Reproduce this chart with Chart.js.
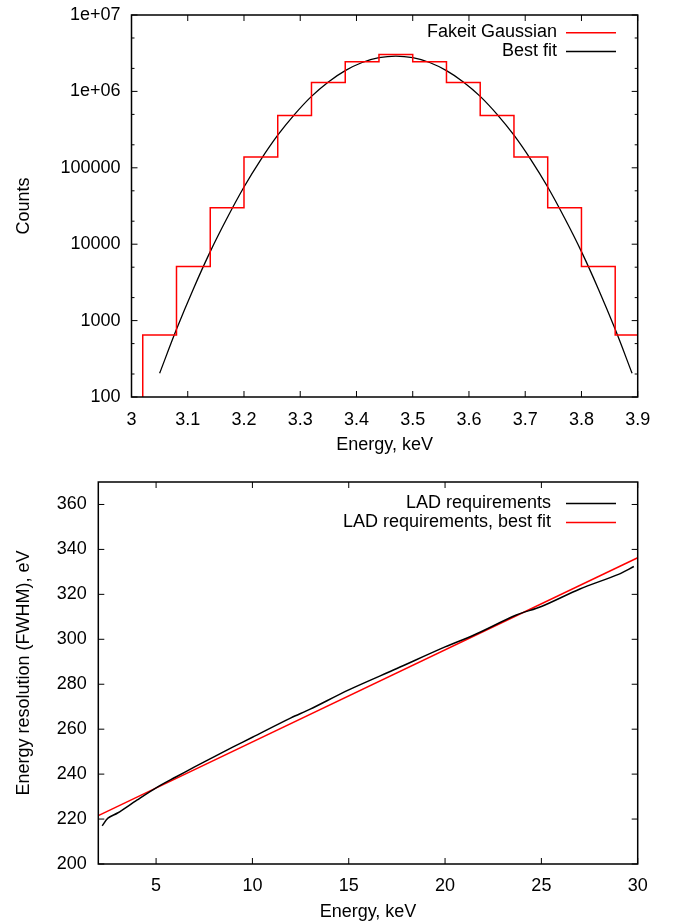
<!DOCTYPE html>
<html>
<head>
<meta charset="utf-8">
<script src="https://cdn.jsdelivr.net/npm/chart.js@4"></script>
<style>
body { margin: 0; background: #fff; }
#wrap { position: relative; width: 673px; height: 924px; }
.box { position: absolute; left: 0; width: 673px; }
</style>
</head>
<body>
<div id="wrap">
  <div class="box" style="top:0;height:460px"><canvas id="spec"></canvas></div>
  <div class="box" style="top:460px;height:464px"><canvas id="res"></canvas></div>
</div>
<script>
// top panel: fakeit spectrum (histogram) and gaussian fit
const binEdges  = [3.02, 3.08, 3.14, 3.20, 3.26, 3.32, 3.38, 3.44, 3.50, 3.56, 3.62, 3.68, 3.74, 3.80, 3.86, 3.92];
const binCounts = [650, 5100, 30000, 138000, 485000, 1310000, 2450000, 3050000, 2450000, 1310000, 485000, 138000, 30000, 5100, 650];

const fitX = [3.05, 3.08, 3.11, 3.14, 3.17, 3.20, 3.23, 3.26, 3.29, 3.32, 3.35, 3.38, 3.41, 3.44, 3.47,
              3.50, 3.53, 3.56, 3.59, 3.62, 3.65, 3.68, 3.71, 3.74, 3.77, 3.80, 3.83, 3.86, 3.89];
const fitY = [204, 770, 2600, 8000, 22000, 56000, 128000, 267000, 500000, 860000, 1330000, 1870000, 2390000, 2760000, 2900000,
              2760000, 2390000, 1870000, 1330000, 860000, 500000, 267000, 128000, 56000, 22000, 8000, 2600, 770, 204];

const specTicksX = [3, 3.1, 3.2, 3.3, 3.4, 3.5, 3.6, 3.7, 3.8, 3.9];
const specLabelsX = ['3', '3.1', '3.2', '3.3', '3.4', '3.5', '3.6', '3.7', '3.8', '3.9'];
const specTicksY = [100, 1000, 10000, 100000, 1000000, 10000000];
const specLabelsY = ['100', '1000', '10000', '100000', '1e+06', '1e+07'];
const specMinorY = [200, 500, 2000, 5000, 20000, 50000, 200000, 500000, 2000000, 5000000];

// bottom panel: LAD energy resolution
const resEnergy = [2.2, 2.5, 3, 4, 5, 6, 7, 8, 9, 10, 12, 13, 15, 17.5, 20, 21.5, 23.7, 25, 27, 29, 29.8];
const resFwhm   = [217.0, 220.4, 222.7, 228.4, 233.9, 238.6, 243.2, 247.7, 252.1, 256.4, 265.0, 268.9, 277.5, 287.0,
                   296.6, 301.9, 310.8, 314.6, 322.4, 328.9, 332.4];
const lineEnergy = [2, 30];
const lineFwhm   = [221.5, 336.3];

const resTicksX = [5, 10, 15, 20, 25, 30];
const resTicksY = [200, 220, 240, 260, 280, 300, 320, 340, 360];

Chart.defaults.font.family = '"Liberation Sans", Arial, sans-serif';
Chart.defaults.font.size = 18;
Chart.defaults.color = '#000';

// gnuplot-like border, inward ticks on all sides and key
const framePlugin = {
  id: 'frame',
  afterDatasetsDraw(chart, args, opts) {
    const ctx = chart.ctx, a = chart.chartArea;
    const xs = chart.scales.x, ys = chart.scales.y;
    ctx.save();
    ctx.strokeStyle = '#000';
    ctx.lineWidth = 1;
    ctx.beginPath();
    xs.ticks.forEach(t => {
      const px = xs.getPixelForValue(t.value);
      ctx.moveTo(px, a.bottom); ctx.lineTo(px, a.bottom - 6);
      ctx.moveTo(px, a.top); ctx.lineTo(px, a.top + 6);
    });
    ys.ticks.forEach(t => {
      const py = ys.getPixelForValue(t.value);
      ctx.moveTo(a.left, py); ctx.lineTo(a.left + 6, py);
      ctx.moveTo(a.right, py); ctx.lineTo(a.right - 6, py);
    });
    (opts.minorY || []).forEach(v => {
      const py = ys.getPixelForValue(v);
      ctx.moveTo(a.left, py); ctx.lineTo(a.left + 3, py);
      ctx.moveTo(a.right, py); ctx.lineTo(a.right - 3, py);
    });
    ctx.stroke();
    ctx.lineWidth = 1.5;
    ctx.strokeRect(a.left, a.top, a.width, a.height);

    ctx.font = '18px "Liberation Sans", Arial, sans-serif';
    ctx.textAlign = 'right';
    ctx.textBaseline = 'middle';
    chart.data.datasets.forEach((ds, i) => {
      const y = a.top + opts.keyTop + i * opts.keyGap;
      ctx.fillStyle = '#000';
      ctx.fillText(ds.label, opts.keyText, y);
      ctx.strokeStyle = ds.borderColor;
      ctx.lineWidth = 1.5;
      ctx.beginPath();
      ctx.moveTo(opts.keyLine[0], y + 0.5);
      ctx.lineTo(opts.keyLine[1], y + 0.5);
      ctx.stroke();
    });
    ctx.restore();
  }
};

// histogram outline: rise from the floor, then one flat step per bin
const histData = [{ x: binEdges[0], y: specTicksY[0] }];
binCounts.forEach((c, i) => histData.push({ x: binEdges[i], y: c }));
histData.push({ x: binEdges[binEdges.length - 1], y: binCounts[binCounts.length - 1] });

new Chart(document.getElementById('spec'), {
  type: 'line',
  data: {
    datasets: [
      { label: 'Fakeit Gaussian', data: histData, stepped: 'before', borderColor: '#ff0000', borderWidth: 1.5, pointRadius: 0 },
      { label: 'Best fit', data: fitX.map((x, i) => ({ x: x, y: fitY[i] })), borderColor: '#000000', borderWidth: 1.3, pointRadius: 0, tension: 0.4 }
    ]
  },
  options: {
    responsive: true,
    maintainAspectRatio: false,
    animation: false,
    layout: { padding: { top: 15, right: 35.3, left: 0, bottom: 0 } },
    plugins: {
      legend: { display: false },
      tooltip: { enabled: false },
      frame: { minorY: specMinorY, keyTop: 17.3, keyGap: 18.7, keyText: 557, keyLine: [566, 616] }
    },
    scales: {
      x: {
        type: 'linear', min: 3, max: 3.9,
        grid: { display: false }, border: { display: false },
        afterBuildTicks: s => { s.ticks = specTicksX.map(v => ({ value: v })); },
        afterFit: s => { s.height = 63; },
        ticks: { padding: 4.2, maxRotation: 0, autoSkip: false, callback: (v, i) => specLabelsX[i] },
        title: { display: true, text: 'Energy, keV', padding: { top: 0, bottom: 4.2 } }
      },
      y: {
        type: 'logarithmic', min: 100, max: 10000000,
        grid: { display: false }, border: { display: false },
        afterBuildTicks: s => { s.ticks = specTicksY.map(v => ({ value: v })); },
        afterFit: s => { s.width = 131.5; },
        ticks: { padding: 3, autoSkip: false, callback: (v, i) => specLabelsY[i] },
        title: { display: true, text: 'Counts', padding: { top: 13.5, bottom: 0 } }
      }
    }
  },
  plugins: [framePlugin]
});

new Chart(document.getElementById('res'), {
  type: 'line',
  data: {
    datasets: [
      { label: 'LAD requirements', data: resEnergy.map((x, i) => ({ x: x, y: resFwhm[i] })), borderColor: '#000000', borderWidth: 1.5, pointRadius: 0, tension: 0.3 },
      { label: 'LAD requirements, best fit', data: lineEnergy.map((x, i) => ({ x: x, y: lineFwhm[i] })), borderColor: '#ff0000', borderWidth: 1.5, pointRadius: 0 }
    ]
  },
  options: {
    responsive: true,
    maintainAspectRatio: false,
    animation: false,
    layout: { padding: { top: 22, right: 35.3, left: 0, bottom: 0 } },
    plugins: {
      legend: { display: false },
      tooltip: { enabled: false },
      frame: { keyTop: 21, keyGap: 19, keyText: 551, keyLine: [566, 616] }
    },
    scales: {
      x: {
        type: 'linear', min: 2, max: 30,
        grid: { display: false }, border: { display: false },
        afterBuildTicks: s => { s.ticks = resTicksX.map(v => ({ value: v })); },
        afterFit: s => { s.height = 60; },
        ticks: { padding: 2.8, maxRotation: 0, autoSkip: false },
        title: { display: true, text: 'Energy, keV', padding: { top: 0, bottom: 1.5 } }
      },
      y: {
        type: 'linear', min: 200, max: 370,
        grid: { display: false }, border: { display: false },
        afterBuildTicks: s => { s.ticks = resTicksY.map(v => ({ value: v })); },
        afterFit: s => { s.width = 98.3; },
        ticks: { padding: 3.6, autoSkip: false },
        title: { display: true, text: 'Energy resolution (FWHM), eV', padding: { top: 13.5, bottom: 0 } }
      }
    }
  },
  plugins: [framePlugin]
});
</script>
</body>
</html>
